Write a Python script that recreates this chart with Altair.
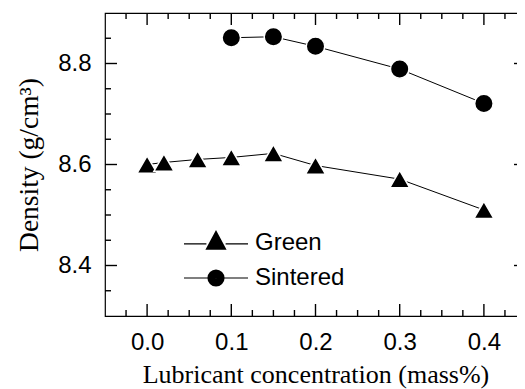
import altair as alt
import pandas as pd

series_names = ["Green", "Sintered"]
green_x = [0.0, 0.02, 0.06, 0.1, 0.15, 0.2, 0.3, 0.4]
green_y = [8.600, 8.604, 8.610, 8.614, 8.622, 8.598, 8.571, 8.510]
sint_x = [0.1, 0.15, 0.2, 0.3, 0.4]
sint_y = [8.851, 8.853, 8.834, 8.789, 8.721]

x_major = [0.0, 0.1, 0.2, 0.3, 0.4]
x_minor = [-0.025, 0.025, 0.05, 0.075, 0.125, 0.15, 0.175, 0.225, 0.25, 0.275,
           0.325, 0.35, 0.375, 0.425]
y_major = [8.4, 8.6, 8.8]
y_minor = [8.35, 8.45, 8.5, 8.55, 8.65, 8.7, 8.75, 8.85]

W, H = 421, 303
MAJ, MIN = 12, 6

df = pd.DataFrame(
    {"x": green_x + sint_x,
     "y": green_y + sint_y,
     "series": [series_names[0]] * len(green_x) + [series_names[1]] * len(sint_x)}
)

xscale = alt.Scale(domain=[-0.05, 0.45], nice=False, zero=False)
yscale = alt.Scale(domain=[8.3, 8.9], nice=False, zero=False)

bottom_axis = alt.Axis(orient="bottom", values=x_major, ticks=False, domain=False,
                       grid=False, format=".1f", labelFont="Liberation Sans",
                       labelFontSize=24, labelColor="black", labelPadding=14,
                       title="Lubricant concentration (mass%)",
                       titleFont="Liberation Serif", titleFontSize=26,
                       titleFontWeight="normal", titleColor="black", titlePadding=7)
left_axis = alt.Axis(orient="left", values=y_major, ticks=False, domain=False,
                     grid=False, format=".1f", labelFont="Liberation Sans",
                     labelFontSize=24, labelColor="black", labelPadding=14,
                     title="Density (g/cm³)", titleFont="Liberation Serif",
                     titleFontSize=27.5, titleFontWeight="normal", titleColor="black",
                     titlePadding=14)

base = alt.Chart(df)

lines = base.mark_line(color="black", strokeWidth=1).encode(
    x=alt.X("x:Q", scale=xscale, axis=bottom_axis),
    y=alt.Y("y:Q", scale=yscale, axis=left_axis),
    detail="series:N",
)

points = base.mark_point(filled=True, fill="black", stroke="white", strokeWidth=1.5,
                         opacity=1).encode(
    x=alt.X("x:Q", scale=xscale, axis=None),
    y=alt.Y("y:Q", scale=yscale, axis=None),
    shape=alt.Shape("series:N", scale=alt.Scale(domain=series_names,
                                                range=["triangle-up", "circle"]),
                    legend=None),
    size=alt.Size("series:N", scale=alt.Scale(domain=series_names, range=[400, 342]),
                  legend=None),
)


def tri_glyph():
    parts = ["M-2,0.06H-0.6", "M0.6,0.06H2"]
    k = 1.0
    while k > 0.05:
        a = 0.6 * k
        parts.append(f"M0,{-0.62 * k - 0.12:.3f}L{a:.3f},{0.38 * k:.3f}"
                     f"L{-a:.3f},{0.38 * k:.3f}Z")
        k -= 0.09
    return "".join(parts)


def circ_glyph():
    parts = ["M-2,0H-0.5", "M0.5,0H2"]
    r = 0.5
    while r > 0.03:
        parts.append(f"M{r:.3f},0A{r:.3f},{r:.3f} 0 1,1 {-r:.3f},0"
                     f"A{r:.3f},{r:.3f} 0 1,1 {r:.3f},0Z")
        r -= 0.05
    return "".join(parts)


legend_layer = base.transform_filter("false").mark_point(
    filled=False, stroke="black", strokeWidth=1.2, opacity=1).encode(
    x=alt.X("x:Q", scale=xscale, axis=None),
    y=alt.Y("y:Q", scale=yscale, axis=None),
    shape=alt.Shape("series:N",
                    scale=alt.Scale(domain=series_names, range=[tri_glyph(), circ_glyph()]),
                    legend=alt.Legend(title=None, orient="none", legendX=94, legendY=213,
                                      symbolSize=1024, symbolStrokeWidth=1.2,
                                      symbolStrokeColor="black", symbolOpacity=1,
                                      labelFont="Liberation Sans", labelFontSize=24,
                                      labelColor="black", labelOffset=22,
                                      rowPadding=6, padding=0)),
)


def x_ticks(vals, side, center, length):
    return alt.Chart(pd.DataFrame({"v": vals, "side": [side] * len(vals)})).mark_tick(
        color="black", orient="vertical", size=length, thickness=1.4, opacity=1,
        filled=True).encode(
        x=alt.X("v:Q", scale=xscale, axis=None),
        y=alt.value(center))


def y_ticks(vals, side, center, length):
    return alt.Chart(pd.DataFrame({"w": vals, "side": [side] * len(vals)})).mark_tick(
        color="black", orient="horizontal", size=length, thickness=1.4, opacity=1,
        filled=True).encode(
        y=alt.Y("w:Q", scale=yscale, axis=None),
        x=alt.value(center))


tick_layers = [
    x_ticks(x_major, "bottom-major", H - MAJ / 2, MAJ),
    x_ticks(x_minor, "bottom-minor", H - MIN / 2, MIN),
    x_ticks(x_major, "top-major", MAJ / 2, MAJ),
    x_ticks(x_minor, "top-minor", MIN / 2, MIN),
    y_ticks(y_major, "left-major", MAJ / 2, MAJ),
    y_ticks(y_minor, "left-minor", MIN / 2, MIN),
    y_ticks(y_major, "right-major", W - MAJ / 2, MAJ),
    y_ticks(y_minor, "right-minor", W - MIN / 2, MIN),
]

chart = alt.layer(lines, points, legend_layer, *tick_layers).resolve_scale(
    shape="independent", size="independent"
).resolve_axis(
    x="independent", y="independent"
).properties(
    width=W, height=H,
    autosize=alt.AutoSizeParams(type="none"),
    padding={"left": 97, "top": 5, "right": -9, "bottom": 73},
).configure_view(stroke="black", strokeWidth=1.2)

chart.save("out.html", embed_options={"renderer": "svg", "actions": False})
